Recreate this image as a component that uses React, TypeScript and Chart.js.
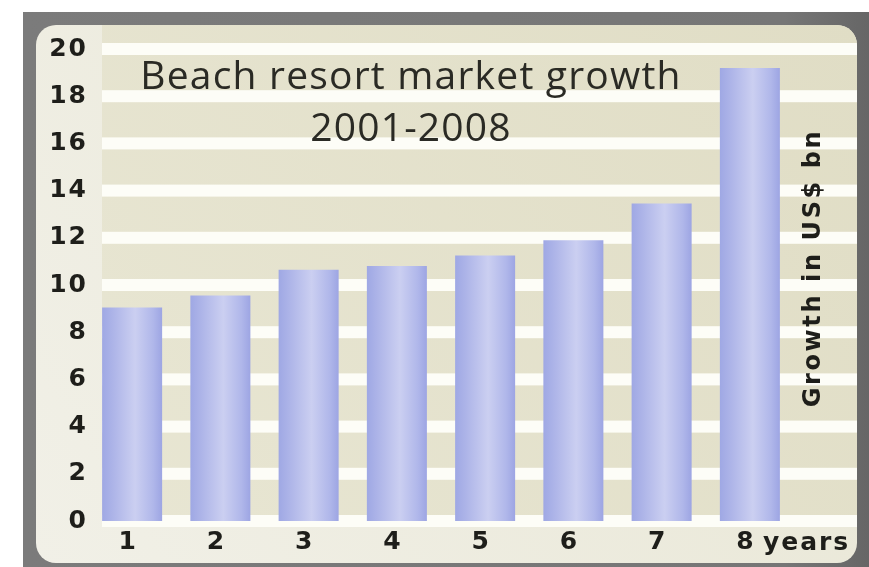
import React, { useEffect, useRef } from "react";
import { Chart, registerables } from "chart.js";

Chart.register(...registerables);

// ---- data ----
const categories: string[] = ["1", "2", "3", "4", "5", "6", "7", "8"];
const growth: number[] = [9.05, 9.55, 10.65, 10.8, 11.25, 11.9, 13.45, 19.2];
const yMin = 0;
const yMax = 20;
const yStep = 2;
const titleLines: string[] = ["Beach resort market growth", "2001-2008"];
const yAxisTitle = "Growth in US$ bn";
const xAxisTitle = "years";

const W = 869;
const H = 567;
const BAR_PCT = 0.68;

export default function App() {
  const ref = useRef<HTMLCanvasElement>(null);

  useEffect(() => {
    document.body.style.margin = "0";
    const canvas = ref.current;
    if (!canvas) return;

    const backgroundPlugin = {
      id: "panelBackground",
      beforeDraw(chart: any) {
        const { ctx, chartArea, scales } = chart;
        const ys = scales.y;
        ctx.save();
        ctx.fillStyle = "#ffffff";
        ctx.fillRect(0, 0, W, H);
        // grey frame
        const fg = ctx.createLinearGradient(23, 0, W, 0);
        fg.addColorStop(0, "#7b7b7b");
        fg.addColorStop(0.9, "#767676");
        fg.addColorStop(1, "#666666");
        ctx.fillStyle = fg;
        ctx.fillRect(23, 12, W - 23, H - 12);
        // beige panel
        ctx.beginPath();
        (ctx as any).roundRect(36, 25, 821, 538, 20);
        const pg = ctx.createLinearGradient(36, 563, 857, 25);
        pg.addColorStop(0, "#f1f0e7");
        pg.addColorStop(1, "#e8e6d4");
        ctx.fillStyle = pg;
        ctx.fill();
        ctx.clip();
        // striped plot region
        const left = chartArea.left + 14;
        const right = 857;
        const bandH = 12;
        const zeroY = ys.getPixelForValue(yMin);
        const sg = ctx.createLinearGradient(left, zeroY, right, 25);
        sg.addColorStop(0, "#e8e6d3");
        sg.addColorStop(1, "#e0ddc5");
        ctx.fillStyle = sg;
        ctx.fillRect(left, 25, right - left, zeroY + bandH / 2 - 25);
        ctx.fillStyle = "#fdfdf7";
        ys.ticks.forEach((t: any) => {
          const py = ys.getPixelForValue(t.value);
          ctx.fillRect(left, py - bandH / 2, right - left, bandH);
        });
        ctx.restore();
        // letter spacing for the axis tick labels
        (ctx as any).letterSpacing = "2px";
      },
      beforeDatasetsDraw(chart: any) {
        (chart.ctx as any).letterSpacing = "0px";
      },
      afterDraw(chart: any) {
        const { ctx, scales } = chart;
        const xs = scales.x;
        ctx.save();
        ctx.fillStyle = "#2a2a24";
        ctx.font = '39px "Open Sans"';
        (ctx as any).letterSpacing = "1.2px";
        ctx.textAlign = "center";
        ctx.textBaseline = "alphabetic";
        ctx.fillText(titleLines[0], 411, 89);
        ctx.fillText(titleLines[1], 411, 141);

        ctx.fillStyle = "#1e1e1a";
        ctx.font = 'bold 25px "DejaVu Sans"';
        (ctx as any).letterSpacing = "2px";
        ctx.textAlign = "left";
        ctx.textBaseline = "middle";
        ctx.fillText(xAxisTitle, xs.getPixelForValue(categories.length - 1) + 13, 543);

        ctx.translate(814, 268);
        ctx.rotate(-Math.PI / 2);
        ctx.font = 'bold 24px "DejaVu Sans"';
        (ctx as any).letterSpacing = "2.6px";
        ctx.textAlign = "center";
        ctx.textBaseline = "middle";
        ctx.fillText(yAxisTitle, 0, 0);
        ctx.restore();
      },
    };

    const chart = new Chart(canvas, {
      type: "bar",
      data: {
        labels: categories,
        datasets: [
          {
            label: yAxisTitle,
            data: growth,
            borderWidth: 0,
            categoryPercentage: 1,
            barPercentage: BAR_PCT,
            backgroundColor: (c: any) => {
              const ch = c.chart;
              const xs = ch.scales && ch.scales.x;
              if (!xs || c.dataIndex == null || !ch.chartArea) return "#b8bfec";
              const cx = xs.getPixelForValue(c.dataIndex);
              const hw = (xs.width / categories.length) * BAR_PCT / 2;
              const g = ch.ctx.createLinearGradient(cx - hw, 0, cx + hw, 0);
              g.addColorStop(0, "#9fa8e4");
              g.addColorStop(0.18, "#adb4e8");
              g.addColorStop(0.55, "#cbcff1");
              g.addColorStop(0.85, "#b0b7ea");
              g.addColorStop(1, "#9da5e3");
              return g;
            },
          },
        ],
      },
      options: {
        animation: false,
        responsive: true,
        maintainAspectRatio: false,
        layout: { padding: { left: 0, right: 75, top: 49, bottom: 0 } },
        plugins: {
          legend: { display: false },
          tooltip: { enabled: false },
          title: { display: false },
        },
        scales: {
          x: {
            type: "category",
            offset: true,
            grid: { display: false, drawTicks: false },
            border: { display: false },
            ticks: {
              color: "#1e1e1a",
              font: { family: "DejaVu Sans", size: 25, weight: "bold" },
              padding: 6,
              labelOffset: -4,
              maxRotation: 0,
              autoSkip: false,
            },
            afterFit: (s: any) => {
              s.height = 46;
            },
          },
          y: {
            type: "linear",
            min: yMin,
            max: yMax,
            grid: { display: false, drawTicks: false },
            border: { display: false },
            ticks: {
              stepSize: yStep,
              color: "#1e1e1a",
              font: { family: "DejaVu Sans", size: 25, weight: "bold" },
              padding: 0,
            },
            afterFit: (s: any) => {
              s.width = 88;
            },
          },
        },
      },
      plugins: [backgroundPlugin],
    });

    return () => {
      chart.destroy();
    };
  }, []);

  return (
    <div style={{ position: "relative", width: W, height: H }}>
      <canvas ref={ref} />
    </div>
  );
}
